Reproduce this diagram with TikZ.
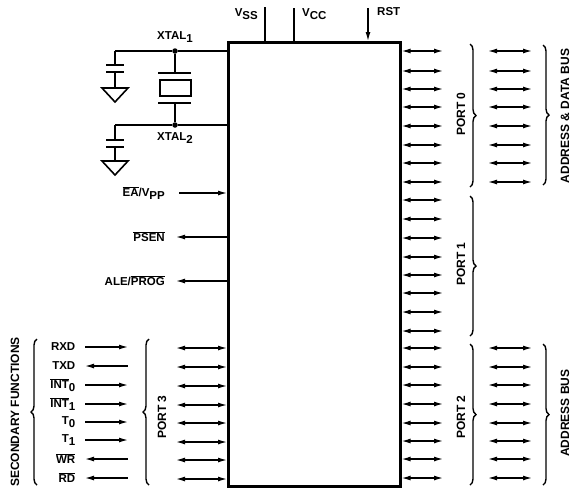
\documentclass[tikz,border=0pt]{standalone}
\usepackage{fontspec}
\setmainfont{Liberation Sans}
\usetikzlibrary{arrows.meta,decorations.pathreplacing}
\newcommand{\ovl}[1]{$\overline{\mbox{#1}}$}
\newcommand{\sbs}[1]{\raisebox{-2.5pt}{#1}}
\tikzset{
  chipbox/.style={draw=black,line width=2.6pt,fill=white,minimum width=172pt,minimum height=444pt,inner sep=0pt,anchor=north west},
  wire/.style={draw=black,line width=1.3pt},
  tipped/.style={wire,{Latex[length=9pt,width=5pt]}-{Latex[length=9pt,width=5pt]}},
  toR/.style={wire,-{Latex[length=9pt,width=5pt]}},
  toL/.style={wire,{Latex[length=9pt,width=5pt]}-},
  lab/.style={font=\bfseries\fontsize{11.5}{12}\selectfont,inner sep=0pt,text=black},
  rlab/.style={lab,anchor=east},
  vlab/.style={lab,rotate=90,font=\bfseries\fontsize{12}{12}\selectfont},
  jdot/.style={circle,fill=black,inner sep=0pt,minimum size=5.5pt},
  brR/.style={draw=black,line width=1.4pt,decorate,decoration={brace,amplitude=6pt}},
  plate/.style={draw=black,line width=1.6pt},
  gnd/.style={draw=black,line width=1.6pt}
}
\begin{document}
\begin{tikzpicture}[x=1pt,y=-1pt]
\useasboundingbox (0,0) rectangle (572,488);
\node[chipbox] (chip) at (227,41) {};
% top pins
\coordinate (vss) at (265,7);
\coordinate (vcc) at (294,8);
\coordinate (rst) at (368,8);
\draw[wire] (vss) -- (vss |- chip.north);
\draw[wire] (vcc) -- (vcc |- chip.north);
\draw[toR] (rst) -- (rst |- chip.north);
\node[rlab] (lvss) at (258,14) {V\sbs{SS}};
\node[lab,anchor=west] (lvcc) at (302,14) {V\sbs{CC}};
\node[lab,anchor=west] (lrst) at (377,12) {RST};
% crystal network
\node[jdot] (x1) at (175,51) {};
\node[jdot] (x2) at (175,125) {};
\coordinate (c1) at (115,51);
\coordinate (c2) at (115,125);
\draw[wire] (c1) -- (x1) -- (x1 -| chip.west);
\draw[wire] (c2) -- (x2) -- (x2 -| chip.west);
\node[lab] (lx1) at (175,37) {XTAL\sbs{1}};
\node[lab] (lx2) at (175,138) {XTAL\sbs{2}};
\node[draw=black,line width=2pt,minimum width=31pt,minimum height=16pt,inner sep=0pt] (xtal) at (175,88) {};
\coordinate (pt) at (175,73);
\coordinate (pb) at (175,103);
\draw[plate] (158,73) -- (191,73);
\draw[plate] (158,103) -- (191,103);
\draw[wire] (x1) -- (pt);
\draw[wire] (pb) -- (x2);
% capacitors and grounds
\coordinate (c1a) at (115,65);
\coordinate (c1b) at (115,72);
\coordinate (g1) at (115,88);
\coordinate (c2a) at (115,140);
\coordinate (c2b) at (115,147);
\coordinate (g2) at (115,161);
\draw[wire] (c1) -- (c1a);
\draw[wire] (c1b) -- (g1);
\draw[wire] (c2) -- (c2a);
\draw[wire] (c2b) -- (g2);
\draw[plate] (106,65) -- (124,65) (106,72) -- (124,72);
\draw[plate] (106,140) -- (124,140) (106,147) -- (124,147);
\draw[gnd] (102,88) -- (128,88) -- (115,102) -- cycle;
\draw[gnd] (102,161) -- (128,161) -- (115,175) -- cycle;
% control pins
\coordinate (ea) at (179,193);
\coordinate (ps) at (176,237);
\coordinate (al) at (176,281);
\draw[toR] (ea) -- (ea -| chip.west);
\draw[toL] (ps) -- (ps -| chip.west);
\draw[toL] (al) -- (al -| chip.west);
\node[rlab] (lea) at (165,193) {\ovl{EA}/V\sbs{PP}};
\node[rlab] (lps) at (165,237) {\ovl{PSEN}};
\node[rlab] (lal) at (165,281) {ALE/\ovl{PROG}};
% right pins
\foreach \y [count=\i] in {51,71,89,107,126,145,163,182,200,219,238,257,275,293,312,331,348,367,385,404,423,441,459,478}{
  \coordinate (re\i) at (443,\y);
  \draw[tipped] (chip.east |- re\i) -- (re\i);
}
% outer right arrows
\foreach \y [count=\i] in {51,71,89,107,126,145,163,182,348,367,385,404,423,441,459,478}{
  \coordinate (oa\i) at (488,\y);
  \coordinate (ob\i) at (532,\y);
  \draw[tipped] (oa\i) -- (ob\i);
}
% port 3 pins
\foreach \y [count=\i] in {348,367,386,405,423,442,460,479}{
  \coordinate (pl\i) at (176,\y);
  \draw[tipped] (pl\i) -- (pl\i -| chip.west);
}
% secondary function arrows and labels
\foreach \y/\sty/\txt [count=\i] in {347/toR/RXD,366/toL/TXD,385/toR/{\ovl{INT}\sbs{0}},404/toR/{\ovl{INT}\sbs{1}},422/toR/{T\sbs{0}},440/toR/{T\sbs{1}},459/toL/{\ovl{WR}},478/toL/{\ovl{RD}}}{
  \coordinate (sa\i) at (85,\y);
  \coordinate (sb\i) at (128,\y);
  \draw[\sty] (sa\i) -- (sb\i);
  \node[rlab] (sl\i) at (75.5,\y) {\txt};
}
% braces
\draw[brR] (470,44) -- (470,187);
\draw[brR] (470,196) -- (470,336);
\draw[brR] (470,344) -- (470,485);
\draw[brR] (543,45) -- (543,185);
\draw[brR] (543,344) -- (543,485);
\draw[brR] (149,485) -- (149,339);
\draw[brR] (37,485) -- (37,339);
% vertical labels
\node[vlab] (p0) at (461,114) {PORT 0};
\node[vlab] (p1) at (461,264) {PORT 1};
\node[vlab] (p2) at (461,417) {PORT 2};
\node[vlab] (p3) at (162,417) {PORT 3};
\node[vlab] (db) at (565,116) {ADDRESS \& DATA BUS};
\node[vlab] (ab) at (565,413) {ADDRESS BUS};
\node[vlab] (sf) at (15,412) {SECONDARY FUNCTIONS};
\end{tikzpicture}
\end{document}
